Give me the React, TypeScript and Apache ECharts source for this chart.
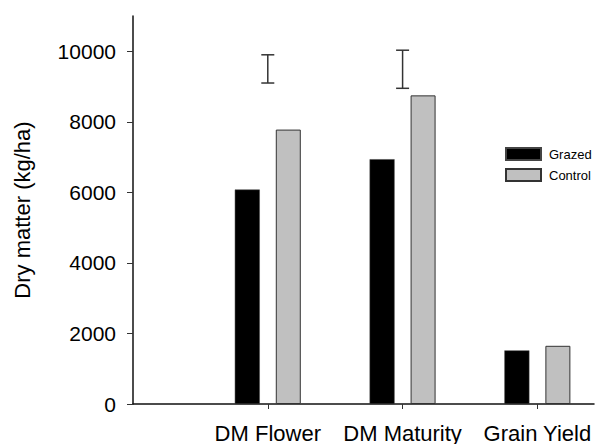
import React, { useEffect, useRef } from "react";
import * as echarts from "echarts";

const categories = ["DM Flower", "DM Maturity", "Grain Yield"];
const categoryPositions = [1, 2, 3];
const grazed = [6080, 6940, 1520];
const control = [7780, 8750, 1650];
// LSD-style error bars: [position, low, high]
const errPositions = [1, 2];
const errLow = [9100, 8950];
const errHigh = [9900, 10030];
const yTicks = [0, 2000, 4000, 6000, 8000, 10000];

const FONT = "'Liberation Sans', Arial, Helvetica, sans-serif";

export default function App() {
  const ref = useRef<HTMLDivElement>(null);
  useEffect(() => {
    if (!ref.current) return;
    const chart = echarts.init(ref.current, null, { renderer: "svg" });
    const option: any = {
      animation: false,
      backgroundColor: "#ffffff",
      textStyle: { fontFamily: FONT },
      grid: { left: 133, right: 1, top: 16, bottom: 40, containLabel: false },
      legend: {
        data: [
          { name: "Grazed", icon: "rect" },
          { name: "Control", icon: "rect" },
        ],
        orient: "vertical",
        left: 505,
        top: 147,
        itemWidth: 35,
        itemHeight: 12,
        itemGap: 7,
        padding: 0,
        textStyle: { fontSize: 13, color: "#000", fontFamily: FONT, padding: [0, 0, 0, 3] },
      },
      xAxis: {
        type: "value",
        min: 0,
        max: 3.42,
        interval: 1,
        splitLine: { show: false },
        axisLine: { show: true, lineStyle: { color: "#111", width: 1.5 } },
        axisTick: {
          show: true,
          length: 5,
          customValues: categoryPositions,
          lineStyle: { color: "#333", width: 1 },
        },
        axisLabel: {
          customValues: categoryPositions,
          fontSize: 22,
          color: "#000",
          fontFamily: FONT,
          margin: 18,
          formatter: (v: number) => categories[Math.round(v) - 1] ?? "",
        },
      },
      yAxis: {
        type: "value",
        min: 0,
        max: 11000,
        interval: 2000,
        name: "Dry matter (kg/ha)",
        nameLocation: "middle",
        nameGap: 100,
        nameTextStyle: { fontSize: 22, color: "#000", fontFamily: FONT },
        splitLine: { show: false },
        axisLine: { show: true, lineStyle: { color: "#111", width: 1.5 } },
        axisTick: {
          show: true,
          length: 6,
          customValues: yTicks,
          lineStyle: { color: "#333", width: 1 },
        },
        axisLabel: {
          customValues: yTicks,
          fontSize: 21,
          color: "#000",
          fontFamily: FONT,
          margin: 17,
          formatter: (v: number) => String(v),
        },
      },
      series: [
        {
          name: "Grazed",
          type: "bar",
          data: categoryPositions.map((p, i) => [p, grazed[i]]),
          barWidth: 25,
          barGap: "64%",
          itemStyle: { color: "#000000", borderColor: "#444", borderWidth: 0.5 },
        },
        {
          name: "Control",
          type: "bar",
          data: categoryPositions.map((p, i) => [p, control[i]]),
          barWidth: 25,
          barGap: "64%",
          itemStyle: { color: "#c0c0c0", borderColor: "#333", borderWidth: 1 },
        },
        {
          name: "LSD",
          type: "custom",
          data: errPositions.map((p, i) => [p, errLow[i], errHigh[i]]),
          encode: { x: 0, y: [1, 2] },
          z: 5,
          renderItem: (params: any, api: any) => {
            const x = api.value(0);
            const lo = api.coord([x, api.value(1)]);
            const hi = api.coord([x, api.value(2)]);
            const hw = 6.5;
            const style = { stroke: "#333", lineWidth: 1.5 };
            return {
              type: "group",
              children: [
                { type: "line", shape: { x1: lo[0], y1: lo[1], x2: hi[0], y2: hi[1] }, style },
                { type: "line", shape: { x1: lo[0] - hw, y1: lo[1], x2: lo[0] + hw, y2: lo[1] }, style },
                { type: "line", shape: { x1: hi[0] - hw, y1: hi[1], x2: hi[0] + hw, y2: hi[1] }, style },
              ],
            };
          },
        },
      ],
    };
    chart.setOption(option);
    return () => chart.dispose();
  }, []);
  return (
    <div
      ref={ref}
      style={{ position: "fixed", left: 0, top: 0, width: 595, height: 444, background: "#fff" }}
    />
  );
}
